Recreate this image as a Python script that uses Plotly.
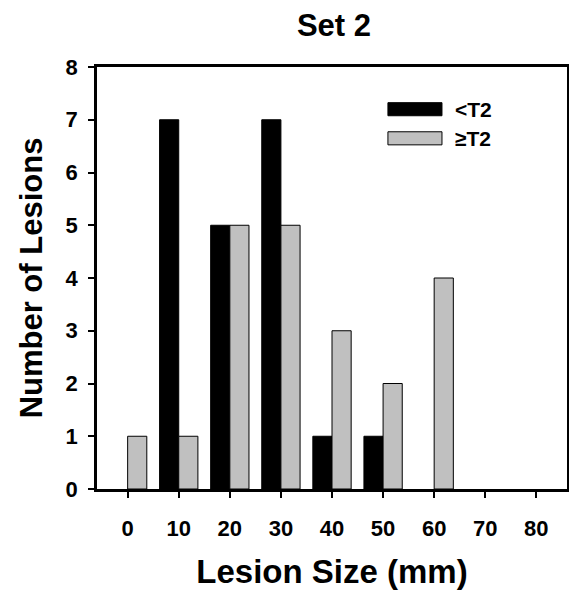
import plotly.graph_objects as go

sizes = ["0", "10", "20", "30", "40", "50", "60", "70", "80"]
below_t2 = [0, 7, 5, 7, 1, 1, 0, 0, 0]
above_t2 = [1, 1, 5, 5, 3, 2, 4, 0, 0]
y_ticks = [0, 1, 2, 3, 4, 5, 6, 7, 8]
series_names = ["<T2", "≥T2"]
series_colors = ["black", "#c0c0c0"]

idx = list(range(len(sizes)))
FONT = "Liberation Sans, Arial, sans-serif"

fig = go.Figure()
for name, vals, col in zip(series_names, [below_t2, above_t2], series_colors):
    fig.add_trace(go.Bar(
        x=idx, y=vals, name=name,
        marker=dict(color=col, line=dict(color="black",
                                         width=[1 if v > 0 else 0 for v in vals])),
        showlegend=False))

# custom legend (long swatches, as in the original)
leg_y = [0.900, 0.831]
for name, col, yc in zip(series_names, series_colors, leg_y):
    fig.add_shape(type="rect", xref="paper", yref="paper",
                  x0=0.619, x1=0.734, y0=yc - 0.0155, y1=yc + 0.0155,
                  fillcolor=col, line=dict(color="black", width=1))
    fig.add_annotation(text=name, xref="paper", yref="paper", x=0.758, y=yc,
                       xanchor="left", yanchor="middle", showarrow=False,
                       font=dict(size=21, family=FONT, weight="bold", color="black"))

fig.update_layout(
    width=569, height=598,
    margin=dict(l=97, r=2, t=67, b=109, autoexpand=False),
    paper_bgcolor="white", plot_bgcolor="white",
    barmode="group", bargap=0.25, bargroupgap=0,
    font=dict(family=FONT, color="black", size=20, weight="bold"),
    title=dict(text="Set 2", x=0.587, xanchor="center", y=0.958, yanchor="middle",
               font=dict(size=31, family=FONT, weight="bold")),
    showlegend=False,
)
fig.update_xaxes(
    range=[-0.6, 8.6], tickmode="array", tickvals=idx, ticktext=sizes,
    showline=True, linecolor="black", linewidth=2.5, mirror=True,
    ticks="outside", ticklen=6, tickwidth=2, tickcolor="black",
    showgrid=False, zeroline=False, ticklabelstandoff=12,
    title=dict(text="Lesion Size (mm)", font=dict(size=33, family=FONT, weight="bold"), standoff=20),
    tickfont=dict(size=22, family=FONT, weight="bold"),
)
fig.update_yaxes(
    range=[0, 8], tickmode="array", tickvals=y_ticks,
    showline=True, linecolor="black", linewidth=2.5, mirror=True,
    ticks="outside", ticklen=6, tickwidth=2, tickcolor="black",
    showgrid=False, zeroline=False, ticklabelstandoff=6,
    title=dict(text="Number of Lesions", font=dict(size=31, family=FONT, weight="bold"), standoff=14),
    tickfont=dict(size=22, family=FONT, weight="bold"),
)

fig.write_html("out.html")
